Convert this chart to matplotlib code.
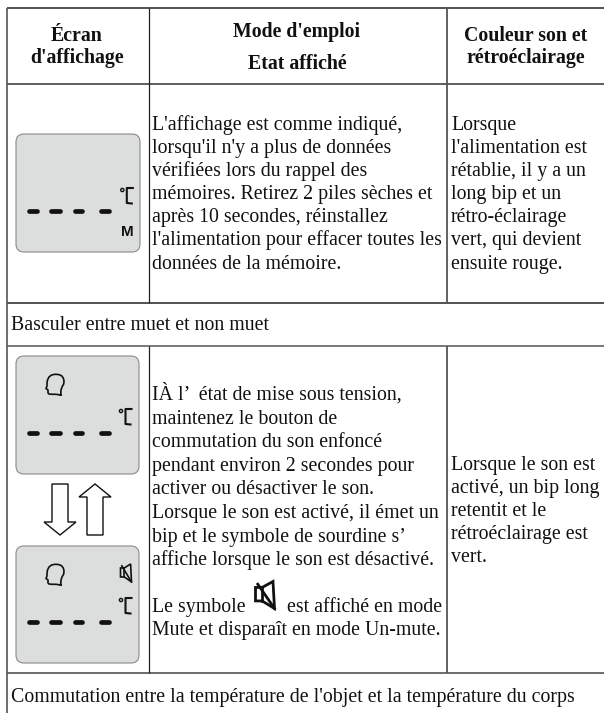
import matplotlib
matplotlib.use("Agg")
import matplotlib.pyplot as plt
from matplotlib.patches import FancyBboxPatch, Polygon, Circle

W, H = 604, 713
SERIF = ["Liberation Serif", "DejaVu Serif"]
SANS = ["Liberation Sans", "DejaVu Sans"]

header_1 = ["Écran", "d'affichage"]
header_2 = ["Mode d'emploi", "Etat affiché"]
header_3 = ["Couleur son et", "rétroéclairage"]

memo_lines = [
    "L'affichage est comme indiqué,",
    "lorsqu'il n'y a plus de données",
    "vérifiées lors du rappel des",
    "mémoires. Retirez 2 piles sèches et",
    "après 10 secondes, réinstallez",
    "l'alimentation pour effacer toutes les",
    "données de la mémoire.",
]
memo_color_lines = [
    "Lorsque",
    "l'alimentation est",
    "rétablie, il y a un",
    "long bip et un",
    "rétro-éclairage",
    "vert, qui devient",
    "ensuite rouge.",
]
section_mute = "Basculer entre muet et non muet"
section_temp = "Commutation entre la température de l'objet et la température du corps"
mute_lines = [
    "IÀ l’  état de mise sous tension,",
    "maintenez le bouton de",
    "commutation du son enfoncé",
    "pendant environ 2 secondes pour",
    "activer ou désactiver le son.",
    "Lorsque le son est activé, il émet un",
    "bip et le symbole de sourdine s’",
    "affiche lorsque le son est désactivé.",
]
symbol_before = "Le symbole"
symbol_after = "est affiché en mode"
symbol_line2 = "Mute et disparaît en mode Un-mute."
mute_color_lines = [
    "Lorsque le son est",
    "activé, un bip long",
    "retentit et le",
    "rétroéclairage est",
    "vert.",
]

fig = plt.figure(figsize=(W / 100, H / 100), dpi=100)
ax = fig.add_axes([0, 0, 1, 1])
ax.set_xlim(0, W)
ax.set_ylim(H, 0)
ax.axis("off")

BODY = 14.3
HEAD = 14.3
INK = "#111111"


def body(x, y, s, **kw):
    ax.text(x, y, s, family=SERIF, fontsize=BODY, va="baseline", color=INK, **kw)


def head(x, y, s):
    ax.text(x, y, s, family=SERIF, fontsize=HEAD, fontweight="bold", va="baseline",
            ha="center", color=INK)


def panel(x0, y0, x1, y1):
    ax.add_patch(FancyBboxPatch((x0 + 8, y0 + 8), x1 - x0 - 16, y1 - y0 - 16,
                                boxstyle="round,pad=8,rounding_size=8",
                                fc="#dcdddd", ec="#8a8a8a", lw=0.8))


def dashes(y):
    for a, b in [(29, 37), (51, 60), (75, 82), (101, 109)]:
        ax.plot([a, b], [y, y], color=INK, lw=3.4, solid_capstyle="round")


def celsius(x, y):
    # x, y = centre of the degree ring
    ax.add_patch(Circle((x, y), 1.6, fc="none", ec=INK, lw=1.0))
    ax.plot([x + 10.5, x + 4.5, x + 4.5, x + 9.5], [y - 2, y - 2, y + 13, y + 13.5],
            color=INK, lw=1.5, solid_joinstyle="round")


def head_icon(x, y):
    px = [5.7, 6, 7, 8.7, 9, 8.3, 6.5, 3.5, 0, -3.5, -6, -7.5, -8, -8, -9, -7, -7, -6, -3, 1, 5.7]
    py = [10, 5, 2, -1, -4, -7, -9.3, -10.5, -10.7, -10, -8, -5, -2, 1, 3.5, 5, 8, 9, 9.3, 9.3, 10]
    ax.plot([x + a for a in px], [y + b for b in py], color=INK, lw=1.2,
            solid_joinstyle="round")


def speaker(cx, cy, w, h, lw):
    ux = [-0.5, -0.15, 0.42, 0.5, -0.15, -0.5]
    uy = [-0.28, -0.28, -0.5, 0.5, 0.22, 0.22]
    pts = [(cx + a * w, cy + b * h) for a, b in zip(ux, uy)]
    ax.add_patch(Polygon(pts, closed=True, fc="none", ec=INK, lw=lw))
    ax.plot([cx - 0.38 * w, cx + 0.5 * w], [cy - 0.4 * h, cy + 0.5 * h], color=INK, lw=lw)
    ax.plot([cx - 0.15 * w, cx - 0.15 * w], [cy - 0.28 * h, cy + 0.22 * h], color=INK, lw=lw)


# table rules
for y, c in [(8, "#222222"), (83.5, "#333333"), (302.5, "#222222"), (346, "#555555"), (672.5, "#444444")]:
    ax.plot([6.5, W], [y, y], color=c, lw=1.1, solid_capstyle="butt")
ax.plot([7, 7], [8, H], color="#555555", lw=1.2, solid_capstyle="butt")
for y0, y1 in [(8, 302.5), (346, 672.5)]:
    ax.plot([148.5, 148.5], [y0, y1], color="#222222", lw=0.9, solid_capstyle="butt")
    ax.plot([447, 447], [y0, y1], color="#555555", lw=1.3, solid_capstyle="butt")

# header row
for y, s in zip([41, 63], header_1):
    head(77, y, s)
for y, s in zip([37, 69], header_2):
    head(297, y, s)
for y, s in zip([41, 63], header_3):
    head(526, y, s)

# first row
for i, s in enumerate(memo_lines):
    body(152, 130 + i * 23.1, s)
for i, s in enumerate(memo_color_lines):
    body(451, 130 + i * 23.1, s)
panel(16, 134, 140, 252)
dashes(211)
celsius(122.3, 190)
ax.text(127.5, 232, "M", family=SANS, fontsize=11, fontweight="bold", ha="center", va="center",
        color=INK)

body(11, 330, section_mute)

# second row
for i, s in enumerate(mute_lines):
    body(152, 400 + i * 23.6, s)
body(152, 612, symbol_before)
speaker(265, 595, 19, 27, 2.0)
body(287, 612, symbol_after)
body(152, 635, symbol_line2)
for i, s in enumerate(mute_color_lines):
    body(451, 470 + i * 23.1, s)

panel(16, 356, 139, 474)
head_icon(55, 385)
celsius(121, 411)
dashes(433)

ax.add_patch(Polygon([(52, 484), (68, 484), (68, 522), (76, 522), (60, 535), (44, 522), (52, 522)],
                     closed=True, fc="white", ec=INK, lw=1.0))
ax.add_patch(Polygon([(95, 484), (111, 497), (103, 497), (103, 535), (87, 535), (87, 497), (79, 497)],
                     closed=True, fc="white", ec=INK, lw=1.0))

panel(16, 546, 139, 663)
head_icon(55, 575)
speaker(126, 573, 11, 18, 1.2)
celsius(121, 600)
dashes(622)

body(11, 702, section_temp)

fig.savefig("out.png", dpi=100)
